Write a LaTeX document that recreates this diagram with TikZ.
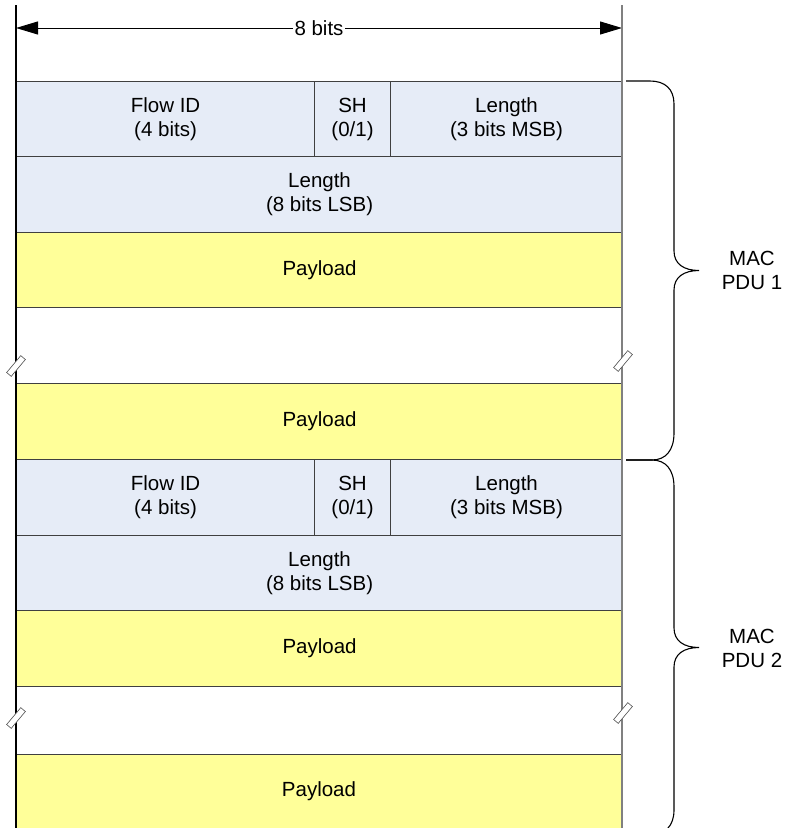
\documentclass[tikz,border=0pt]{standalone}
\usepackage{fontspec}
\setmainfont{Liberation Sans}
\usetikzlibrary{arrows.meta}

\definecolor{hdrblue}{HTML}{E6ECF7}
\definecolor{payyellow}{HTML}{FFFF99}
\definecolor{edgegray}{HTML}{404040}
\definecolor{railgray}{HTML}{808080}

\tikzset{
  txt/.style={font=\fontsize{20.5bp}{24bp}\selectfont, align=center},
  cell/.style={txt, draw=edgegray, line width=1.1bp, inner sep=0pt, anchor=north west},
  hdr/.style={cell, fill=hdrblue},
  pay/.style={cell, fill=payyellow},
  rail/.style={line width=1.5bp},
  breakmark/.style={draw=black!70, fill=white, line width=0.6bp, minimum width=22bp,
    minimum height=6bp, inner sep=0pt, rotate=50},
  brace/.style={line width=1.1bp, black},
  dimline/.style={line width=1bp,
    {Triangle[length=22bp,width=13bp]}-{Triangle[length=22bp,width=13bp]}},
  lbl/.style={txt, inner sep=1bp}
}

\begin{document}
\begin{tikzpicture}[x=1bp, y=-1bp]
\useasboundingbox (0,0) rectangle (787,828);
\clip (0,0) rectangle (787,828);

% width indicator
\coordinate (al) at (16,28);
\coordinate (ar) at (622,28);
\draw[dimline] (al) -- (ar) node[midway, fill=white, lbl, inner sep=1.5bp] (bits) {8 bits};

% first MAC PDU
\node[hdr, minimum width=298bp, minimum height=75bp] (fid1) at (16,81) {Flow ID\\(4 bits)};
\node[hdr, minimum width=76bp, minimum height=75bp] (sh1) at (314,81) {SH\\(0/1)};
\node[hdr, minimum width=232bp, minimum height=75bp] (lenm1) at (390,81) {Length\\(3 bits MSB)};
\node[hdr, minimum width=606bp, minimum height=76bp] (lenl1) at (16,156) {Length\\(8 bits LSB)};
\node[pay, minimum width=606bp, minimum height=75bp] (pay1a) at (16,232) {Payload};
\node[pay, minimum width=606bp, minimum height=76bp] (pay1b) at (16,383) {Payload};

% second MAC PDU
\node[hdr, minimum width=298bp, minimum height=76bp] (fid2) at (16,459) {Flow ID\\(4 bits)};
\node[hdr, minimum width=76bp, minimum height=76bp] (sh2) at (314,459) {SH\\(0/1)};
\node[hdr, minimum width=232bp, minimum height=76bp] (lenm2) at (390,459) {Length\\(3 bits MSB)};
\node[hdr, minimum width=606bp, minimum height=75bp] (lenl2) at (16,535) {Length\\(8 bits LSB)};
\node[pay, minimum width=606bp, minimum height=76bp] (pay2a) at (16,610) {Payload};
\node[pay, minimum width=606bp, minimum height=100bp] (pay2b) at (16,754) {};
\node[txt] (pay2blbl) at (319,791) {Payload};

% side rails
\coordinate (lt) at (16,5);
\coordinate (lb) at (16,840);
\coordinate (rt) at (622,5);
\coordinate (rb) at (622,840);
\draw[rail, black] (lt) -- (lb);
\draw[rail, railgray] (rt) -- (rb);

% break marks on the rails
\node[breakmark] (brk1l) at (16,366) {};
\node[breakmark] (brk1r) at (623,361) {};
\node[breakmark] (brk2l) at (16,718) {};
\node[breakmark] (brk2r) at (623,713) {};

% braces
\draw[brace] (626,81) -- (650,81) .. controls (665,81) and (674,89) .. (674,104)
  -- (674,251) .. controls (674,264) and (684,270.5) .. (699,270.5)
  .. controls (684,270.5) and (674,277) .. (674,290)
  -- (674,433) .. controls (674,450) and (666,460) .. (652,460) -- (626,460);
\draw[brace] (626,460) -- (652,460) .. controls (666,460) and (674,470) .. (674,487)
  -- (674,628) .. controls (674,641) and (684,647.5) .. (699,647.5)
  .. controls (684,647.5) and (674,654) .. (674,667)
  -- (674,810) .. controls (674,826) and (665,835) .. (650,835) -- (626,835);

\node[lbl] (pdu1) at (752,270) {MAC\\PDU 1};
\node[lbl] (pdu2) at (752,648) {MAC\\PDU 2};
\end{tikzpicture}
\end{document}
